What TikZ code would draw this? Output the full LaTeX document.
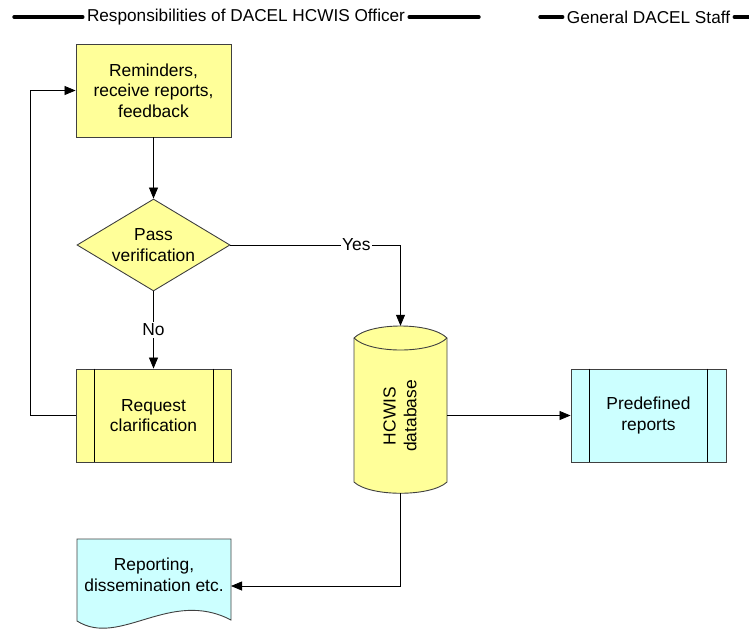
\documentclass[tikz,border=0pt]{standalone}
\usepackage{fontspec}
\setmainfont{Liberation Sans}
\usetikzlibrary{arrows.meta,shapes.geometric}
\definecolor{fyel}{RGB}{255,255,153}
\definecolor{fcyan}{RGB}{204,255,255}
\definecolor{edgec}{RGB}{64,64,64}
\begin{document}
\begin{tikzpicture}[x=1pt,y=-1pt,
  font=\fontsize{17.4}{20.7}\selectfont,
  shapeline/.style={draw=edgec, line width=0.9pt},
  box/.style={shapeline, fill=fyel, minimum width=155pt, minimum height=93pt, inner sep=0pt, align=center},
  dia/.style={shapeline, fill=fyel, diamond, aspect=1.66, minimum width=153pt, minimum height=92pt, inner sep=0pt, align=center},
  conn/.style={draw=black, line width=0.8pt, -{Triangle[length=11pt,width=9pt]}},
  hline/.style={draw=black, line width=3.4pt, line cap=round},
  htext/.style={inner xsep=4pt, inner ysep=2pt, font=\fontsize{17.2}{20}\selectfont},
  lbl/.style={fill=white, inner sep=1.5pt}]
\useasboundingbox (0,0) rectangle (749,630);

% header
\node[htext] (h1) at (246,17) {Responsibilities of DACEL HCWIS Officer};
\coordinate (h1a) at (14,17);
\coordinate (h1b) at (479,17);
\draw[hline] (h1a) -- (h1.west);
\draw[hline] (h1.east) -- (h1b);
\node[htext] (h2) at (648.5,17) {General DACEL Staff};
\coordinate (h2a) at (540,17);
\coordinate (h2b) at (751,17);
\draw[hline] (h2a) -- (h2.west);
\draw[hline] (h2.east) -- (h2b);

% process boxes
\node[box] (rem) at (153.5,90.5) {Reminders,\\receive reports,\\feedback};
\node[dia] (pass) at (153.5,245) {Pass\\verification};
\node[box] (req) at (153.5,415.5) {Request\\clarification};
\draw[black, line width=0.8pt] ([xshift=19pt]req.north west) -- ([xshift=19pt]req.south west);
\draw[black, line width=0.8pt] ([xshift=-18pt]req.north east) -- ([xshift=-18pt]req.south east);
\node[box, fill=fcyan] (pre) at (648.5,415.5) {Predefined\\reports};
\draw[black, line width=0.8pt] ([xshift=19pt]pre.north west) -- ([xshift=19pt]pre.south west);
\draw[black, line width=0.8pt] ([xshift=-19pt]pre.north east) -- ([xshift=-19pt]pre.south east);

% database cylinder
\draw[shapeline, fill=fyel] (354,338) .. controls (370,322) and (431,322) .. (447,338)
  -- (447,482) .. controls (431,497) and (370,497) .. (354,482) -- cycle;
\draw[shapeline] (354,338) .. controls (370,354) and (431,354) .. (447,338);
\node[minimum width=93pt, minimum height=167pt, inner sep=0pt] (db) at (400.5,409.5) {};
\node[rotate=90, align=center, inner sep=0pt] (dbtext) at (400,416) {HCWIS\\database};

% document shape
\draw[shapeline, fill=fcyan] (77,539) -- (231,539) -- (231,620)
  .. controls (170,588) and (120,648) .. (77,621) -- cycle;
\node[align=center, inner sep=0pt] (doc) at (154,575) {Reporting,\\dissemination etc.};
\coordinate (docin) at (231,586);

% connectors
\draw[conn] (rem) -- (pass);
\draw[conn] (pass) -- node[lbl, pos=0.5] {No} (req);
\draw[conn] (pass.east) -| node[lbl, pos=0.37] {Yes} (db.north);
\coordinate (loop) at (30,415.5);
\draw[conn] (req.west) -- (loop) |- (rem.west);
\draw[conn] (db.east |- pre.west) -- (pre.west);
\draw[conn] (db.south) |- (docin);
\end{tikzpicture}
\end{document}
